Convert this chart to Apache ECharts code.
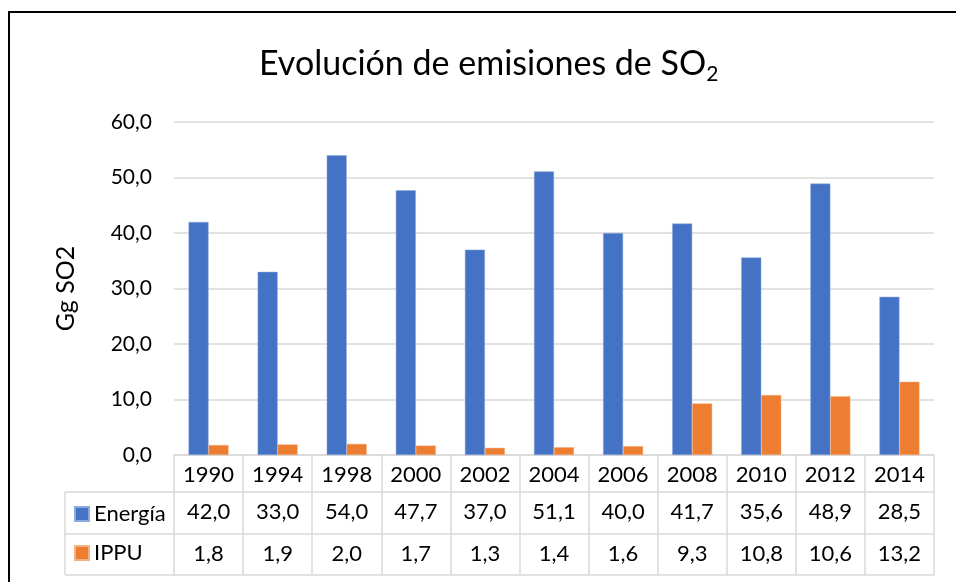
<!DOCTYPE html>
<html>
<head>
<meta charset="utf-8">
<script src="https://cdn.jsdelivr.net/npm/echarts@6/dist/echarts.min.js"></script>
<style>
  html, body { margin: 0; padding: 0; background: #fff; }
  #chart { width: 956px; height: 582px; }
</style>
</head>
<body>
<div id="chart"></div>
<script>
var years = ['1990', '1994', '1998', '2000', '2002', '2004', '2006', '2008', '2010', '2012', '2014'];
var energia = [42.0, 33.0, 54.0, 47.7, 37.0, 51.1, 40.0, 41.7, 35.6, 48.9, 28.5];
var ippu = [1.8, 1.9, 2.0, 1.7, 1.3, 1.4, 1.6, 9.3, 10.8, 10.6, 13.2];
var yTicks = [0, 10, 20, 30, 40, 50, 60];

var fmt = function (v) {
    return Number(v).toFixed(1).replace('.', ',');
};

var FONT = 'Lato';
var GRID_COLOR = '#d9d9d9';

var chart = echarts.init(document.getElementById('chart'));

var tableAxis = function (data, offset, tickLen, showLabel) {
    return {
        type: 'category',
        gridIndex: 0,
        position: 'bottom',
        offset: offset,
        data: data,
        axisLine: { show: true, lineStyle: { color: GRID_COLOR, width: 1.5 } },
        axisTick: { show: tickLen > 0, length: tickLen, interval: 0, lineStyle: { color: GRID_COLOR, width: 1.5 } },
        axisLabel: { show: showLabel, interval: 0, margin: 9, color: '#000', fontSize: 22, fontFamily: FONT }
    };
};

var option = {
    animation: false,
    backgroundColor: '#fff',
    textStyle: { fontFamily: FONT },
    title: {
        text: 'Evolución de emisiones de SO{s|2}',
        left: 254,
        top: 39,
        textStyle: {
            fontFamily: FONT,
            fontSize: 34,
            fontWeight: 'normal',
            color: '#000',
            rich: {
                s: { fontFamily: FONT, fontSize: 21, color: '#000', padding: [20, 0, 0, 0] }
            }
        }
    },
    legend: {
        orient: 'vertical',
        left: 74,
        top: 503,
        padding: 0,
        itemWidth: 14,
        itemHeight: 14,
        itemGap: 17,
        icon: 'rect',
        textStyle: { fontFamily: FONT, fontSize: 22, color: '#000' },
        data: ['Energía', 'IPPU']
    },
    grid: { left: 174, right: 22, top: 122, bottom: 127 },
    xAxis: [
        tableAxis(years, 0, 37, true),
        tableAxis(energia.map(fmt), 37, 42, true),
        tableAxis(ippu.map(fmt), 79, 41, true),
        tableAxis(years, 120, 0, false)
    ],
    yAxis: {
        type: 'value',
        min: yTicks[0],
        max: yTicks[yTicks.length - 1],
        interval: 10,
        name: 'Gg SO2',
        nameLocation: 'middle',
        nameRotate: 90,
        nameGap: 96,
        nameTextStyle: { fontFamily: FONT, fontSize: 25, color: '#000' },
        axisLine: { show: false },
        axisTick: { show: false },
        axisLabel: { margin: 22, color: '#000', fontSize: 21, fontFamily: FONT, formatter: fmt },
        splitLine: { lineStyle: { color: GRID_COLOR, width: 1.5 } }
    },
    series: [
        {
            name: 'Energía',
            type: 'bar',
            xAxisIndex: 0,
            data: energia,
            barWidth: 20,
            barGap: '0%',
            itemStyle: { color: '#4472C4', borderColor: '#8eaadb', borderWidth: 0.5 }
        },
        {
            name: 'IPPU',
            type: 'bar',
            xAxisIndex: 0,
            data: ippu,
            barWidth: 20,
            barGap: '0%',
            itemStyle: { color: '#ED7D31', borderColor: '#f4b183', borderWidth: 0.5 }
        }
    ],
    graphic: [
        // marco del grafico
        { type: 'rect', shape: { x: 9, y: 12, width: 1000, height: 700 }, style: { fill: 'none', stroke: '#000', lineWidth: 2 }, silent: true },
        // celdas de la leyenda en la tabla
        { type: 'line', shape: { x1: 65, y1: 492, x2: 174, y2: 492 }, style: { stroke: GRID_COLOR, lineWidth: 1.5 } },
        { type: 'line', shape: { x1: 65, y1: 534, x2: 174, y2: 534 }, style: { stroke: GRID_COLOR, lineWidth: 1.5 } },
        { type: 'line', shape: { x1: 65, y1: 575, x2: 174, y2: 575 }, style: { stroke: GRID_COLOR, lineWidth: 1.5 } },
        { type: 'line', shape: { x1: 65, y1: 492, x2: 65, y2: 575 }, style: { stroke: GRID_COLOR, lineWidth: 1.5 } }
    ]
};

chart.setOption(option);
</script>
</body>
</html>
